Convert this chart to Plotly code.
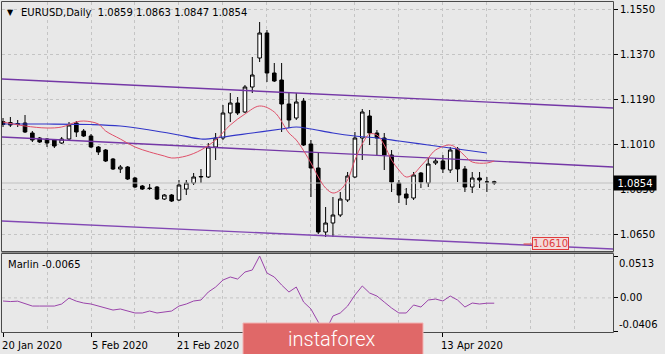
import plotly.graph_objects as go

# ---------------- data ----------------
# bar index 0 = 20 Jan 2020 (daily bars)
OPEN = [1.1100, 1.1096, 1.1092, 1.1094, 1.1054, 1.1034, 1.1030, 1.1026, 1.1014, 1.1030,
        1.1094, 1.1062, 1.1042, 1.0998, 1.0986, 1.0950, 1.0910, 1.0918, 1.0874, 1.0842,
        1.0834, 1.0838, 1.0790, 1.0806, 1.0786, 1.0830, 1.0854, 1.0878, 1.0878, 1.0998,
        1.1034, 1.1134, 1.1174, 1.1138, 1.1238, 1.1354, 1.1454, 1.1294, 1.1266, 1.1170,
        1.1114, 1.1182, 1.1010, 1.0914, 1.0658, 1.0694, 1.0726, 1.0786, 1.0878, 1.1034,
        1.1122, 1.1054, 1.1034, 1.0966, 1.0854, 1.0810, 1.0794, 1.0894, 1.0854, 1.0934,
        1.0942, 1.0906, 1.0990, 1.0910, 1.0838, 1.0874, 1.0858, 1.0859]
HIGH = [1.1114, 1.1118, 1.1106, 1.1126, 1.1062, 1.1038, 1.1034, 1.1030, 1.1038, 1.1098,
        1.1102, 1.1070, 1.1050, 1.1002, 1.0990, 1.0954, 1.0926, 1.0922, 1.0878, 1.0846,
        1.0850, 1.0842, 1.0810, 1.0810, 1.0866, 1.0866, 1.0894, 1.0910, 1.1014, 1.1054,
        1.1166, 1.1214, 1.1198, 1.1246, 1.1358, 1.1498, 1.1466, 1.1334, 1.1334, 1.1218,
        1.1214, 1.1194, 1.1026, 1.0978, 1.0758, 1.0798, 1.0818, 1.0898, 1.1058, 1.1150,
        1.1146, 1.1066, 1.1054, 1.0986, 1.0866, 1.0834, 1.0898, 1.0898, 1.0954, 1.0954,
        1.0966, 1.0998, 1.0998, 1.0922, 1.0898, 1.0898, 1.0878, 1.0863]
LOW = [1.1078, 1.1078, 1.1078, 1.1054, 1.1018, 1.1014, 1.0998, 1.0994, 1.1010, 1.1022,
       1.1038, 1.1038, 1.0994, 1.0966, 1.0938, 1.0906, 1.0894, 1.0866, 1.0834, 1.0826,
       1.0826, 1.0786, 1.0786, 1.0778, 1.0782, 1.0806, 1.0846, 1.0854, 1.0874, 1.0946,
       1.1026, 1.1098, 1.1126, 1.1134, 1.1214, 1.1338, 1.1258, 1.1258, 1.1058, 1.1074,
       1.1106, 1.1002, 1.0798, 1.0650, 1.0638, 1.0638, 1.0718, 1.0778, 1.0874, 1.0946,
       1.1006, 1.0966, 1.0906, 1.0818, 1.0774, 1.0766, 1.0786, 1.0834, 1.0838, 1.0926,
       1.0894, 1.0894, 1.0858, 1.0818, 1.0814, 1.0834, 1.0818, 1.0847]
CLOSE = [1.1088, 1.1086, 1.1088, 1.1058, 1.1026, 1.1018, 1.1014, 1.1002, 1.1030, 1.1086,
         1.1058, 1.1042, 1.0998, 1.0978, 1.0942, 1.0910, 1.0918, 1.0870, 1.0838, 1.0830,
         1.0832, 1.0790, 1.0806, 1.0782, 1.0846, 1.0854, 1.0878, 1.0880, 1.0998, 1.1034,
         1.1134, 1.1174, 1.1134, 1.1238, 1.1286, 1.1454, 1.1294, 1.1262, 1.1170, 1.1106,
         1.1178, 1.1006, 1.0914, 1.0658, 1.0694, 1.0726, 1.0790, 1.0882, 1.1034, 1.1138,
         1.1054, 1.1034, 1.0966, 1.0858, 1.0806, 1.0794, 1.0886, 1.0858, 1.0930, 1.0942,
         1.0910, 1.0986, 1.0910, 1.0838, 1.0874, 1.0866, 1.0858, 1.0854]
BAR_IDX = list(range(len(CLOSE)))

# slow moving average (blue)
BLUE_IDX = [0, 6, 12, 16, 20, 24, 27, 30, 34, 38, 40, 42, 45, 48, 51, 54, 58, 62, 66]
BLUE_VAL = [1.1090, 1.1090, 1.1088, 1.1082, 1.1066, 1.1046, 1.1030, 1.1038, 1.1054, 1.1070,
            1.1078, 1.1070, 1.1054, 1.1042, 1.1034, 1.1022, 1.1006, 1.0990, 1.0974]

# fast moving average (red)
RED_IDX = [0, 3, 6, 8, 10, 11, 13, 14, 16, 18, 20, 22, 23, 25, 27, 29, 31, 33, 35, 37,
           39, 40, 42, 43, 44, 45, 46, 47, 48, 49, 50, 51, 52, 53, 54, 55, 56, 57, 58, 59,
           61, 62, 63, 64, 66, 67]
RED_VAL = [1.1098, 1.1082, 1.1074, 1.1078, 1.1098, 1.1102, 1.1090, 1.1062, 1.1030, 1.0998,
           1.0978, 1.0962, 1.0954, 1.0962, 1.0986, 1.1026, 1.1086, 1.1130, 1.1162, 1.1138,
           1.1054, 1.1026, 1.0934, 1.0878, 1.0834, 1.0814, 1.0826, 1.0866, 1.0946, 1.1010,
           1.1050, 1.1046, 1.1006, 1.0946, 1.0906, 1.0878, 1.0890, 1.0922, 1.0954, 1.0986,
           1.1006, 1.0990, 1.0962, 1.0938, 1.0934, 1.0942]

# channel trend lines (start / end bar index and price)
CHAN_IDX = [-1, 84]
CHAN_UPPER = [1.1271, 1.1153]
CHAN_MID = [1.1039, 1.0917]
CHAN_LOWER = [1.0703, 1.0589]

# Marlin oscillator
MARLIN = [-0.0038, -0.0045, -0.0040, -0.0070, -0.0100, -0.0100, -0.0100, -0.0100, -0.0075, -0.0002,
          -0.0040, -0.0063, -0.0075, -0.0100, -0.0124, -0.0149, -0.0136, -0.0161, -0.0185, -0.0185,
          -0.0161, -0.0185, -0.0173, -0.0161, -0.0100, -0.0075, -0.0038, -0.0026, 0.0072, 0.0133,
          0.0219, 0.0256, 0.0231, 0.0317, 0.0342, 0.0513, 0.0305, 0.0256, 0.0158, 0.0072,
          0.0133, -0.0051, -0.0136, -0.0296, -0.0406, -0.0222, -0.0185, -0.0100, 0.0035, 0.0146,
          0.0060, 0.0023, -0.0051, -0.0124, -0.0185, -0.0185, -0.0087, -0.0112, -0.0026, -0.0014,
          -0.0038, 0.0023, -0.0026, -0.0112, -0.0063, -0.0075, -0.0065, -0.0065]

PRICE_TICKS = [1.1550, 1.1370, 1.1190, 1.1010, 1.0830, 1.0650]
OSC_MAX = 0.0513
OSC_MIN = -0.0406
OSC_TICKS = [OSC_MAX, 0.0, OSC_MIN]
DATE_IDX = [0, 12, 24, 60]
DATE_TEXT = ["20 Jan 2020", "5 Feb 2020", "21 Feb 2020", "13 Apr 2020"]
GRID_IDX = [6, 12, 18, 24, 30, 36, 42, 48, 54, 60, 66, 72, 78]

LAST_PRICE = 1.0854
MARK_PRICE = 1.0610
MARK_IDX = 71
TITLE = "EURUSD,Daily\u00a0\u00a01.0859 1.0863 1.0847 1.0854"
OSC_TITLE = "Marlin -0.0065"

# ---------------- styling / layout ----------------
W, H = 665, 354
BG = "#e8e8e8"
GRID = "#c4c4c4"
FONT = "DejaVu Sans"


def px(x):
    return x / W


def py(y):
    return 1 - y / H


X_RANGE = [-0.14, 83.2]
PRICE_RANGE = [1.0582, 1.1578]
OSC_RANGE = [-0.0418, 0.0538]

fig = go.Figure()

for vals, col in [(CHAN_UPPER, "#7437a6"), (CHAN_MID, "#7437a6"), (CHAN_LOWER, "#8248b4")]:
    fig.add_trace(go.Scatter(x=CHAN_IDX, y=vals, mode="lines",
                             line=dict(color=col, width=1.4), xaxis="x", yaxis="y"))

fig.add_trace(go.Scatter(x=[X_RANGE[0] - 2, X_RANGE[1] + 2], y=[LAST_PRICE, LAST_PRICE],
                         mode="lines", line=dict(color="#c0c0c0", width=1), xaxis="x", yaxis="y"))

fig.add_trace(go.Scatter(x=BLUE_IDX, y=BLUE_VAL, mode="lines", line_shape="spline",
                         line=dict(color="#3236c8", width=1.2), xaxis="x", yaxis="y"))
fig.add_trace(go.Scatter(x=RED_IDX, y=RED_VAL, mode="lines", line_shape="spline",
                         line=dict(color="#e0506a", width=1), xaxis="x", yaxis="y"))

fig.add_trace(go.Candlestick(
    x=BAR_IDX, open=OPEN, high=HIGH, low=LOW, close=CLOSE,
    increasing=dict(fillcolor="#ffffff", line=dict(color="#000000", width=1)),
    decreasing=dict(fillcolor="#000000", line=dict(color="#000000", width=1)),
    whiskerwidth=0, xaxis="x", yaxis="y"))

fig.add_trace(go.Scatter(x=BAR_IDX, y=MARLIN, mode="lines",
                         line=dict(color="#9a44aa", width=1), xaxis="x2", yaxis="y2"))

tickfont = dict(family=FONT, size=10, color="#000000")
fig.update_layout(
    width=W, height=H, margin=dict(l=0, r=0, t=0, b=0),
    paper_bgcolor=BG, plot_bgcolor=BG, showlegend=False,
    xaxis=dict(domain=[px(2), px(613)], range=X_RANGE, anchor="y", type="linear",
               tickvals=GRID_IDX, showticklabels=False, ticks="",
               showgrid=True, gridcolor=GRID, griddash="3px,3px", gridwidth=1,
               zeroline=False, showline=False, rangeslider=dict(visible=False)),
    yaxis=dict(domain=[py(251), py(2)], range=PRICE_RANGE, anchor="x", side="right",
               tickvals=PRICE_TICKS, ticktext=[f"{v:.4f}" for v in PRICE_TICKS],
               ticks="outside", ticklen=4, tickcolor="#000000", tickfont=tickfont,
               showgrid=True, gridcolor=GRID, griddash="3px,3px", gridwidth=1,
               zeroline=False, showline=False),
    xaxis2=dict(domain=[px(2), px(613)], range=X_RANGE, anchor="y2", type="linear",
                tickvals=DATE_IDX, ticktext=DATE_TEXT, ticks="outside", ticklen=4,
                tickcolor="#000000", tickfont=tickfont, ticklabelshift=29,
                showgrid=False, zeroline=False, showline=False,
                minor=dict(tickvals=GRID_IDX, showgrid=True, gridcolor=GRID,
                           griddash="3px,3px", ticks="")),
    yaxis2=dict(domain=[py(332), py(254)], range=OSC_RANGE, anchor="x2", side="right",
                tickvals=OSC_TICKS, ticktext=["", "0.00", ""], ticks="outside", ticklen=4,
                tickcolor="#000000", tickfont=tickfont, showgrid=False,
                zeroline=False, showline=False),
)

shapes = [
    # zero level of the oscillator
    dict(type="line", xref="x2", yref="y2", x0=X_RANGE[0], x1=X_RANGE[1], y0=0, y1=0,
         line=dict(color=GRID, width=1, dash="3px,3px"), layer="below"),
    # panel frames
    dict(type="rect", xref="paper", yref="paper", x0=px(1.5), x1=px(613.5), y0=py(251.5), y1=py(1.5),
         line=dict(color="#4a4a4a", width=1), fillcolor="rgba(0,0,0,0)", layer="above"),
    dict(type="rect", xref="paper", yref="paper", x0=px(1.5), x1=px(613.5), y0=py(332.5), y1=py(253.5),
         line=dict(color="#4a4a4a", width=1), fillcolor="rgba(0,0,0,0)", layer="above"),
    dict(type="line", xref="paper", yref="paper", x0=px(1.5), x1=px(613.5), y0=py(252.5), y1=py(252.5),
         line=dict(color="#8a8a8a", width=1), layer="above"),
    # watermark
    dict(type="rect", xref="paper", yref="paper", x0=px(243), x1=px(423), y0=py(358), y1=py(323),
         line=dict(color="#f3b3b3", width=1), fillcolor="#e06868", layer="above"),
]
fig.update_layout(shapes=shapes)

annotations = [
    dict(xref="paper", yref="paper", x=px(5), y=py(12), text="\u25bc", showarrow=False,
         xanchor="left", yanchor="middle", font=dict(family=FONT, size=8, color="#000000")),
    dict(xref="paper", yref="paper", x=px(19), y=py(12), text=TITLE, showarrow=False,
         xanchor="left", yanchor="middle", font=dict(family=FONT, size=10, color="#000000")),
    dict(xref="paper", yref="paper", x=px(6), y=py(264), text=OSC_TITLE, showarrow=False,
         xanchor="left", yanchor="middle", font=dict(family=FONT, size=10, color="#000000")),
    # oscillator extreme labels, drawn inside the window like the terminal does
    dict(xref="paper", yref="y2", x=px(618), y=OSC_MAX, text=f"{OSC_MAX:.4f}", showarrow=False,
         xanchor="left", yanchor="top", borderpad=0, yshift=-1,
         font=dict(family=FONT, size=10, color="#000000")),
    dict(xref="paper", yref="y2", x=px(618), y=OSC_MIN, text=f"{OSC_MIN:.4f}", showarrow=False,
         xanchor="left", yanchor="bottom", borderpad=0, yshift=0,
         font=dict(family=FONT, size=10, color="#000000")),
    # current price tag
    dict(xref="paper", yref="y", x=px(613), y=LAST_PRICE, text=f"{LAST_PRICE:.4f}", showarrow=False,
         xanchor="left", yanchor="middle", bgcolor="#000000", borderpad=1, width=40, height=12,
         font=dict(family=FONT, size=10, color="#ffffff")),
    # price marker label
    dict(xref="x", yref="y", x=MARK_IDX, y=MARK_PRICE, text=f"{MARK_PRICE:.4f}", showarrow=True,
         arrowhead=0, arrowcolor="#e03c3c", arrowwidth=1, ax=27, ay=0, standoff=0,
         bgcolor="#f3dada", bordercolor="#e03c3c", borderwidth=1, borderpad=0, height=11,
         font=dict(family=FONT, size=10, color="#e03c3c")),
    # watermark text
    dict(xref="paper", yref="paper", x=px(332), y=py(339), text="instaforex", showarrow=False,
         xanchor="center", yanchor="middle",
         font=dict(family="Roboto", size=20, weight=300, color="#ffffff")),
]
fig.update_layout(annotations=annotations)

fig.write_html("out.html")
